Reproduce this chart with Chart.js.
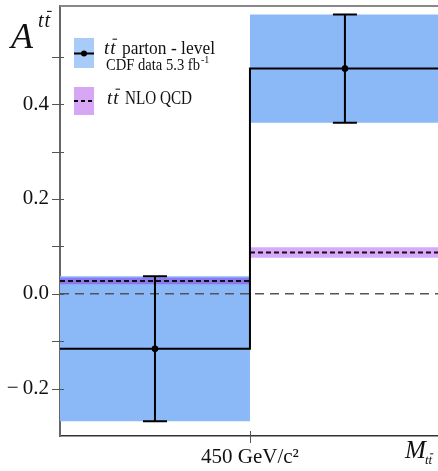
<!DOCTYPE html>
<html>
<head>
<meta charset="utf-8">
<script src="https://cdn.jsdelivr.net/npm/chart.js@4.4.1/dist/chart.umd.min.js"></script>
<style>
  body { margin: 0; background: #fff; }
  canvas { display: block; }
</style>
</head>
<body>
<canvas id="myChart" width="438" height="471"></canvas>
<script>
// two mass bins in M_tt (GeV/c^2), split at 450
const binEdges = [350, 450, 550];
const binCenters = [400, 500];
const dataValues = [-0.116, 0.475];   // CDF parton-level
const dataErrors = [0.153, 0.114];
const nloValues = [0.027, 0.087];     // NLO QCD
const nloErrors = [0.007, 0.011];
const yTicks = [-0.2, -0.1, 0.0, 0.1, 0.2, 0.3, 0.4, 0.5];
const yTickLabels = { '-0.2': '\u2212\u20090.2', '0.0': '0.0', '0.2': '0.2', '0.4': '0.4' };
const xTicks = [450];
const xTickLabels = ['450 GeV/c\u00b2'];

const FONT = 'Liberation Serif';
const blueBand = '#8bb9f8';
const nloBandColors = ['#8b77ee', '#d9a9f9']; // left one sits on top of the blue band

function band(x0, x1, lo, hi, color) {
    return {
        type: 'line',
        data: [{ x: x0, y: hi }, { x: x1, y: hi }],
        borderWidth: 0,
        pointRadius: 0,
        backgroundColor: color,
        fill: { target: { value: lo } },
        order: 20
    };
}

const datasets = [];
dataValues.forEach((v, i) => {
    datasets.push(band(binEdges[i], binEdges[i + 1], v - dataErrors[i], v + dataErrors[i], blueBand));
});
nloValues.forEach((v, i) => {
    const b = band(binEdges[i], binEdges[i + 1], v - nloErrors[i], v + nloErrors[i], nloBandColors[i]);
    b.order = 15;
    datasets.push(b);
});
// zero line
datasets.push({
    type: 'line',
    data: [{ x: binEdges[0], y: 0 }, { x: binEdges[2], y: 0 }],
    borderColor: '#555', borderWidth: 1.5, borderDash: [9, 6],
    pointRadius: 0, fill: false, order: 10
});
// NLO central values
nloValues.forEach((v, i) => {
    datasets.push({
        type: 'line',
        data: [{ x: binEdges[i], y: v }, { x: binEdges[i + 1], y: v }],
        borderColor: '#111', borderWidth: 2, borderDash: [5, 3],
        pointRadius: 0, fill: false, order: 8
    });
});
// data histogram (step line)
const stepPts = [];
dataValues.forEach((v, i) => {
    stepPts.push({ x: binEdges[i], y: v }, { x: binEdges[i + 1], y: v });
});
datasets.push({
    type: 'line',
    data: stepPts,
    borderColor: '#000', borderWidth: 2, borderJoinStyle: 'miter',
    pointRadius: 0, fill: false, order: 5
});
// data points
datasets.push({
    type: 'scatter',
    data: binCenters.map((x, i) => ({ x: x, y: dataValues[i] })),
    backgroundColor: '#000', borderColor: '#000',
    pointRadius: 3, order: 0
});

// error bars with caps
const errorBars = {
    id: 'errorBars',
    afterDatasetsDraw(chart) {
        const { ctx, scales: { x, y } } = chart;
        ctx.save();
        ctx.strokeStyle = '#000';
        ctx.lineWidth = 2;
        binCenters.forEach((c, i) => {
            const px = x.getPixelForValue(c);
            const top = y.getPixelForValue(dataValues[i] + dataErrors[i]);
            const bot = y.getPixelForValue(dataValues[i] - dataErrors[i]);
            ctx.beginPath();
            ctx.moveTo(px, top); ctx.lineTo(px, bot);
            ctx.moveTo(px - 12, top); ctx.lineTo(px + 12, top);
            ctx.moveTo(px - 12, bot); ctx.lineTo(px + 12, bot);
            ctx.stroke();
        });
        ctx.restore();
    }
};

function ttbar(ctx, x, y, size, gap) {
    // "t t" with a bar over the second t
    gap = gap || 0;
    ctx.font = 'italic ' + size + 'px "' + FONT + '"';
    const w1 = ctx.measureText('t').width;
    ctx.fillText('t', x, y);
    ctx.fillText('t', x + w1 + gap, y);
    ctx.save();
    ctx.lineWidth = Math.max(1, size / 18);
    ctx.beginPath();
    ctx.moveTo(x + w1 + gap + size * 0.12, y - size * 0.78);
    ctx.lineTo(x + 2 * w1 + gap + size * 0.08, y - size * 0.78);
    ctx.stroke();
    ctx.restore();
}

const decorations = {
    id: 'decorations',
    afterDraw(chart) {
        const { ctx, chartArea: a, scales: { x, y } } = chart;
        ctx.save();
        // top frame line
        ctx.strokeStyle = '#888';
        ctx.lineWidth = 2;
        ctx.beginPath();
        ctx.moveTo(a.left, a.top); ctx.lineTo(a.right, a.top);
        ctx.stroke();
        // tick marks
        ctx.strokeStyle = '#555';
        ctx.lineWidth = 1;
        yTicks.forEach(v => {
            const py = Math.round(y.getPixelForValue(v)) + 0.5;
            ctx.beginPath();
            ctx.moveTo(a.left - 8, py); ctx.lineTo(a.left + 4, py);
            ctx.stroke();
        });
        xTicks.forEach(v => {
            const px = Math.round(x.getPixelForValue(v)) + 0.5;
            ctx.beginPath();
            ctx.moveTo(px, a.bottom - 5); ctx.lineTo(px, a.bottom + 7);
            ctx.stroke();
        });

        ctx.fillStyle = '#111';
        ctx.strokeStyle = '#111';
        ctx.textBaseline = 'alphabetic';
        ctx.textAlign = 'left';
        // y title A^{tt}
        ctx.font = 'italic 36px "' + FONT + '"';
        ctx.fillText('A', 11, 48);
        ttbar(ctx, 38, 27, 20, 1);
        // x title M_{tt}
        ctx.font = 'italic 25px "' + FONT + '"';
        ctx.fillText('M', 405, 458);
        ttbar(ctx, 425, 464, 13);

        // legend
        ctx.fillStyle = '#a9cbf7';
        ctx.fillRect(74, 38, 20, 30);
        ctx.fillStyle = '#d7a7f5';
        ctx.fillRect(74, 87, 20, 28);
        ctx.strokeStyle = '#000';
        ctx.lineWidth = 2;
        ctx.beginPath();
        ctx.moveTo(74, 53.5); ctx.lineTo(94, 53.5);
        ctx.stroke();
        ctx.fillStyle = '#000';
        ctx.beginPath();
        ctx.arc(84, 53.5, 3, 0, Math.PI * 2);
        ctx.fill();
        ctx.setLineDash([4, 3]);
        ctx.beginPath();
        ctx.moveTo(74, 101); ctx.lineTo(94, 101);
        ctx.stroke();
        ctx.setLineDash([]);

        ctx.fillStyle = '#111';
        ctx.strokeStyle = '#111';
        ttbar(ctx, 104, 54, 19, 1);
        ctx.font = '18px "' + FONT + '"';
        ctx.fillText('parton - level', 122, 54, 93);
        ctx.font = '16px "' + FONT + '"';
        ctx.fillText('CDF data 5.3 fb', 106, 70, 94);
        ctx.font = '10px "' + FONT + '"';
        ctx.fillText('-1', 201, 63);
        ttbar(ctx, 107, 104, 19, 1);
        ctx.font = '18px "' + FONT + '"';
        ctx.fillText('NLO QCD', 125, 104, 67);
        ctx.restore();
    }
};

const ctx = document.getElementById('myChart').getContext('2d');
const myChart = new Chart(ctx, {
    data: { datasets: datasets },
    options: {
        responsive: false,
        animation: false,
        devicePixelRatio: 1,
        events: [],
        layout: { autoPadding: false, padding: { top: 6, right: 0, left: 0, bottom: 0 } },
        plugins: { legend: { display: false }, tooltip: { enabled: false } },
        scales: {
            x: {
                type: 'linear',
                min: 350, max: 549,
                afterBuildTicks: s => { s.ticks = xTicks.map(v => ({ value: v })); },
                afterFit: s => { s.height = 35; s.paddingLeft = 0; s.paddingRight = 0; },
                grid: { display: false, drawTicks: false },
                border: { display: true, color: '#333', width: 1.5 },
                ticks: {
                    callback: v => { const i = xTicks.indexOf(v); return i >= 0 ? xTickLabels[i] : ''; },
                    font: { family: FONT, size: 21 },
                    color: '#111', padding: 9, maxRotation: 0, autoSkip: false
                }
            },
            y: {
                type: 'linear',
                min: -0.300, max: 0.607,
                afterBuildTicks: s => { s.ticks = yTicks.map(v => ({ value: v })); },
                afterFit: s => { s.width = 60; s.paddingTop = 0; s.paddingBottom = 0; },
                grid: { display: false, drawTicks: false },
                border: { display: true, color: '#666', width: 2 },
                ticks: {
                    callback: v => yTickLabels[v.toFixed(1)] || '',
                    font: { family: FONT, size: 21 },
                    color: '#111', padding: 11, autoSkip: false
                }
            }
        }
    },
    plugins: [errorBars, decorations]
});
</script>
</body>
</html>
